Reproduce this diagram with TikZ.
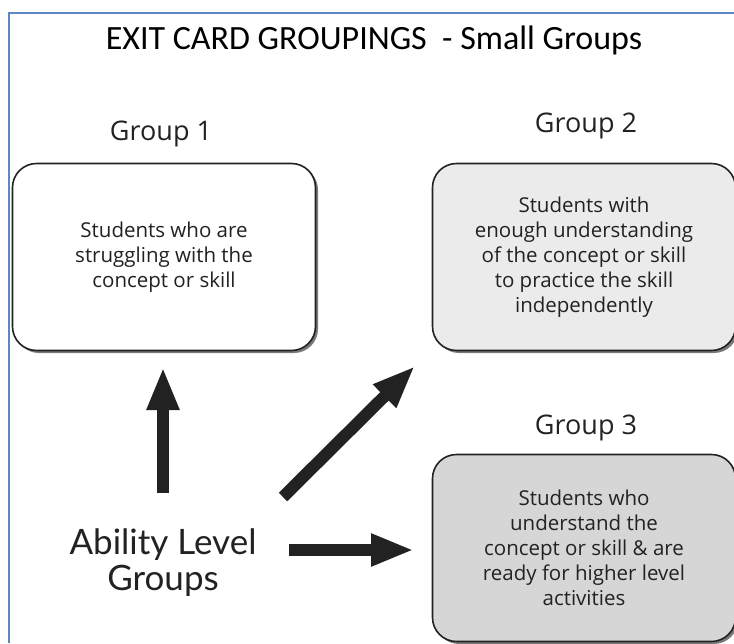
\documentclass[tikz,border=0pt]{standalone}
\usepackage{fontspec}
\setmainfont{Open Sans}
\newfontfamily\titlefont{Carlito}
\newfontfamily\abilityfont{Lato}
\usetikzlibrary{arrows.meta,shadows}
\definecolor{frameblue}{HTML}{5B87C5}
\definecolor{inkgray}{HTML}{222222}
\definecolor{fillA}{HTML}{FFFFFF}
\definecolor{fillB}{HTML}{EBEBEB}
\definecolor{fillC}{HTML}{D6D6D6}
\tikzset{
  groupbox/.style={draw=inkgray, line width=1.6pt, rounded corners=24pt,
    minimum width=303pt, minimum height=187pt, inner sep=0pt,
    align=center, text=inkgray, font=\fontsize{20.5}{25}\selectfont,
    drop shadow={shadow xshift=2.5pt, shadow yshift=-2.5pt, fill=black!65, opacity=0.8}},
  grouplabel/.style={text=inkgray, anchor=base, font=\fontsize{27}{32}\selectfont},
  bigarrow/.style={draw=inkgray, line width=12pt,
    -{Triangle[length=43pt,width=30pt]}}
}
\begin{document}
\begin{tikzpicture}[x=1pt,y=-1pt]
\useasboundingbox (0,0) rectangle (734,643);
\fill[white] (0,0) rectangle (734,643);
% frame
\draw[frameblue, line width=1.5pt] (9,643) -- (9,13) -- (734,13);
% title
\node[text=black, anchor=base, font=\titlefont\fontsize{34}{40}\selectfont] (title) at (374,49)
  {EXIT CARD GROUPINGS\ \ - Small Groups};
% group labels
\node[grouplabel] (g1) at (161,140) {Group 1};
\node[grouplabel] (g2) at (586,132) {Group 2};
\node[grouplabel] (g3) at (586,434) {Group 3};
% boxes
\node[groupbox, fill=fillA] (b1) at (164,257) {Students who are\\struggling with the\\concept or skill};
\node[groupbox, fill=fillB] (b2) at (584,257) {Students with\\enough understanding\\of the concept or skill\\to practice the skill\\independently};
\node[groupbox, fill=fillC] (b3) at (584,548) {Students who\\understand the\\concept or skill \& are\\ready for higher level\\activities};
% source
\node[text=inkgray, align=center, font=\abilityfont\fontsize{35}{36}\selectfont] (alg) at (163,563) {Ability Level\\Groups};
% arrow ends
\coordinate (a1s) at (163,493);
\coordinate (a1e) at (163,367);
\coordinate (a2s) at (283,497);
\coordinate (a2e) at (415,366);
\coordinate (a3s) at (289,550);
\coordinate (a3e) at (414,550);
\draw[bigarrow] (a1s) -- (a1e);
\draw[bigarrow] (a2s) -- (a2e);
\draw[bigarrow] (a3s) -- (a3e);
\end{tikzpicture}
\end{document}
